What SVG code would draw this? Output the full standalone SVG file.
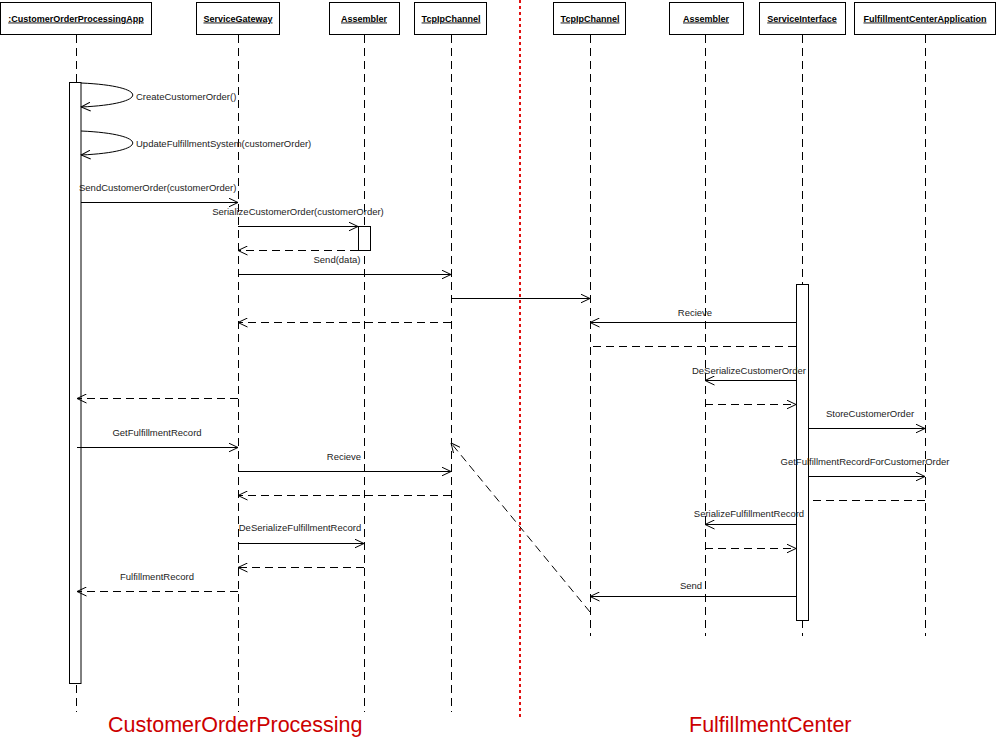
<svg xmlns="http://www.w3.org/2000/svg" width="997" height="741" viewBox="0 0 997 741">
<style>
.box{fill:#fff;stroke:#000;stroke-width:1}
.hd{font-family:"Liberation Sans",Arial,sans-serif;font-size:9px;font-weight:bold;text-decoration:underline;text-anchor:middle;fill:#000}
.life{stroke:#000;stroke-width:1;stroke-dasharray:8,5;fill:none;shape-rendering:crispEdges}
.act{fill:#fff;stroke:#000;stroke-width:1}
.msg{stroke:#000;stroke-width:1;fill:none;marker-end:url(#arr)}
.ret{stroke:#000;stroke-width:1;fill:none;stroke-dasharray:8,5;marker-end:url(#arr)}
.retn{stroke:#000;stroke-width:1;fill:none;stroke-dasharray:8,5}
.h{shape-rendering:crispEdges}
.lbl{font-family:"Liberation Sans",Arial,sans-serif;font-size:9.5px;fill:#222}
.mid{text-anchor:middle}
.red{font-family:"Liberation Sans",Arial,sans-serif;font-size:21.5px;fill:#cc0000}
</style>
<defs>
<marker id="arr" viewBox="0 0 10 10" refX="9.5" refY="5" markerWidth="10" markerHeight="10" markerUnits="userSpaceOnUse" orient="auto">
<path d="M0,0.5 L9.5,5 L0,9.5" fill="none" stroke="#000" stroke-width="1"/>
</marker>
</defs>
<rect width="997" height="741" fill="#fff"/>

<g id="separator">
<line x1="520" y1="0" x2="520" y2="717" stroke="#e01010" stroke-width="2" stroke-dasharray="3,3"/>
</g>

<g id="n1">
<rect class="box" x="0.5" y="2.5" width="151" height="32"/>
<text class="hd" x="76" y="21.5">:CustomerOrderProcessingApp</text>
<line class="life" x1="76" y1="35" x2="76" y2="712"/>
<rect class="act" x="69.5" y="82.5" width="11.5" height="601"/>
</g>
<g id="n2">
<rect class="box" x="196.5" y="2.5" width="83" height="32"/>
<text class="hd" x="238" y="21.5">ServiceGateway</text>
<line class="life" x1="238" y1="35" x2="238" y2="712"/>
</g>
<g id="n3">
<rect class="box" x="329.5" y="2.5" width="70" height="32"/>
<text class="hd" x="364" y="21.5">Assembler</text>
<line class="life" x1="364" y1="35" x2="364" y2="712"/>
<rect class="act" x="358.5" y="226.5" width="12" height="24"/>
</g>
<g id="n4">
<rect class="box" x="414.5" y="2.5" width="72" height="32"/>
<text class="hd" x="451" y="21.5">TcpIpChannel</text>
<line class="life" x1="451" y1="35" x2="451" y2="712"/>
</g>
<g id="n5">
<rect class="box" x="553.5" y="2.5" width="72" height="32"/>
<text class="hd" x="590" y="21.5">TcpIpChannel</text>
<line class="life" x1="590" y1="35" x2="590" y2="636"/>
</g>
<g id="n6">
<rect class="box" x="669.5" y="2.5" width="74" height="32"/>
<text class="hd" x="706" y="21.5">Assembler</text>
<line class="life" x1="705" y1="35" x2="705" y2="636"/>
</g>
<g id="n7">
<rect class="box" x="759.5" y="2.5" width="86" height="32"/>
<text class="hd" x="802" y="21.5">ServiceInterface</text>
<line class="life" x1="802" y1="35" x2="802" y2="636"/>
<rect class="act" x="796.5" y="284.5" width="12" height="336"/>
</g>
<g id="n8">
<rect class="box" x="854.5" y="2.5" width="141" height="32"/>
<text class="hd" x="925" y="21.5">FulfillmentCenterApplication</text>
<line class="life" x1="925" y1="35" x2="925" y2="636"/>
</g>

<g id="connectors">
<path class="msg" d="M81,83 C150,86 150,104 81,107"/>
<path class="msg" d="M81,131 C150,134 150,152 81,155"/>
<line class="msg" x1="81" y1="202.5" x2="238" y2="202.5"/>
<line class="msg" x1="238" y1="226.5" x2="358" y2="226.5"/>
<line class="ret" x1="358" y1="250.5" x2="238" y2="250.5"/>
<line class="msg" x1="238" y1="274.5" x2="451" y2="274.5"/>
<line class="msg" x1="451" y1="298.5" x2="590" y2="298.5"/>
<line class="ret" x1="451" y1="322.5" x2="238" y2="322.5"/>
<line class="msg" x1="796" y1="322.5" x2="590" y2="322.5"/>
<line class="retn" x1="796" y1="346.5" x2="590" y2="346.5"/>
<line class="msg" x1="796" y1="380.5" x2="705" y2="380.5"/>
<line class="ret" x1="238" y1="398.5" x2="77" y2="398.5"/>
<line class="ret" x1="705" y1="404.5" x2="796" y2="404.5"/>
<line class="msg" x1="808" y1="428.5" x2="925" y2="428.5"/>
<line class="msg" x1="77" y1="447.5" x2="238" y2="447.5"/>
<line class="msg" x1="238" y1="471.5" x2="451" y2="471.5"/>
<line class="msg" x1="808" y1="476.5" x2="925" y2="476.5"/>
<line class="ret" x1="451" y1="495.5" x2="238" y2="495.5"/>
<line class="retn" x1="925" y1="500.5" x2="808" y2="500.5"/>
<line class="ret" x1="590" y1="612" x2="451" y2="443"/>
<line class="msg" x1="796" y1="524.5" x2="705" y2="524.5"/>
<line class="msg" x1="238" y1="543.5" x2="364" y2="543.5"/>
<line class="ret" x1="705" y1="548.5" x2="796" y2="548.5"/>
<line class="ret" x1="364" y1="567.5" x2="238" y2="567.5"/>
<line class="ret" x1="238" y1="591.5" x2="77" y2="591.5"/>
<line class="msg" x1="796" y1="596.5" x2="590" y2="596.5"/>
</g>

<g id="labels">
<text class="lbl" x="136" y="99.5">CreateCustomerOrder()</text>
<text class="lbl" x="136" y="146.5">UpdateFulfillmentSystem(customerOrder)</text>
<text class="lbl" x="79" y="191">SendCustomerOrder(customerOrder)</text>
<text class="lbl mid" x="298" y="215">SerializeCustomerOrder(customerOrder)</text>
<text class="lbl mid" x="337" y="263">Send(data)</text>
<text class="lbl mid" x="695" y="316">Recieve</text>
<text class="lbl mid" x="749" y="374">DeSerializeCustomerOrder</text>
<text class="lbl mid" x="870" y="417">StoreCustomerOrder</text>
<text class="lbl mid" x="157" y="436">GetFulfillmentRecord</text>
<text class="lbl mid" x="344" y="460">Recieve</text>
<text class="lbl mid" x="865" y="465">GetFulfillmentRecordForCustomerOrder</text>
<text class="lbl mid" x="749" y="517">SerializeFulfillmentRecord</text>
<text class="lbl mid" x="300" y="531">DeSerializeFulfillmentRecord</text>
<text class="lbl mid" x="157" y="580">FulfillmentRecord</text>
<text class="lbl mid" x="691" y="589">Send</text>
<text class="red" x="108" y="732">CustomerOrderProcessing</text>
<text class="red" x="689" y="732">FulfillmentCenter</text>
</g>
</svg>
